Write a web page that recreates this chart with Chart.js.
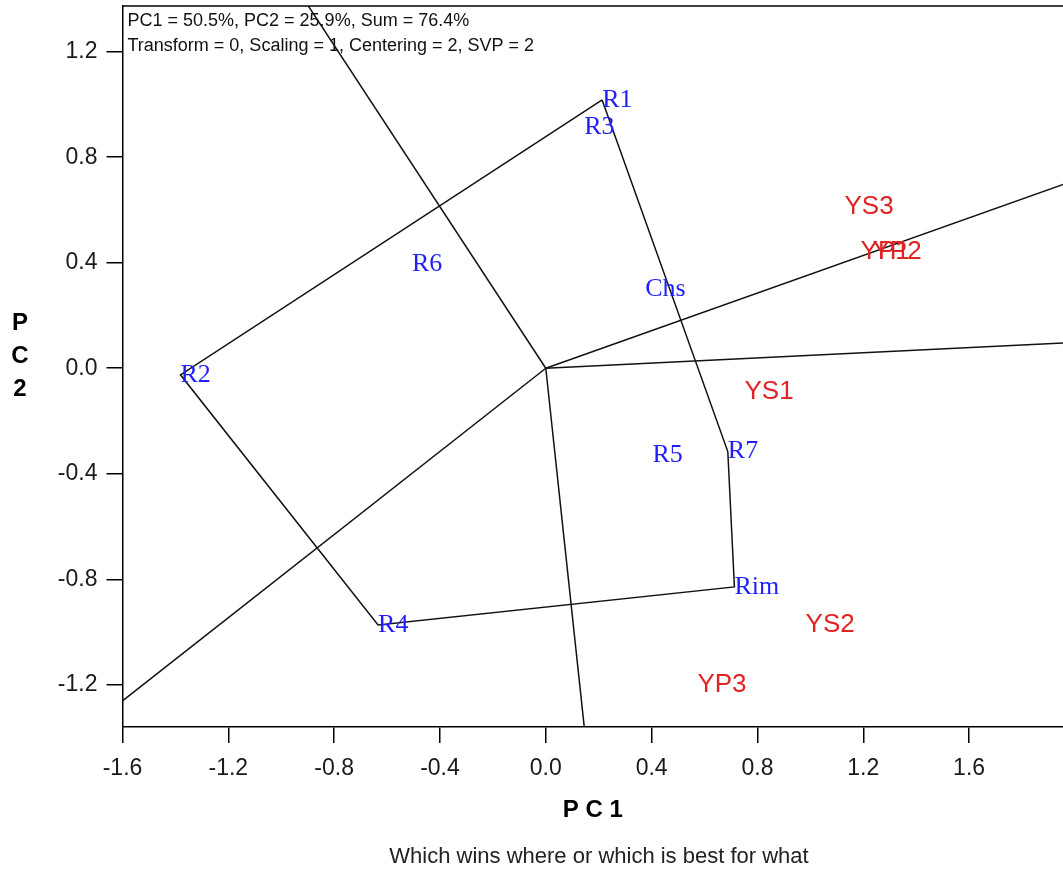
<!DOCTYPE html>
<html>
<head>
<meta charset="utf-8">
<title>Which wins where</title>
<script src="https://cdn.jsdelivr.net/npm/chart.js@4.4.0/dist/chart.umd.min.js"></script>
<style>
  html, body { margin: 0; padding: 0; background: #fff; }
  #wrap { width: 1063px; height: 872px; }
</style>
</head>
<body>
<div id="wrap"><canvas id="biplot" width="1063" height="872"></canvas></div>
<script>
// genotype scores (blue) on PC1 / PC2
const genotypes = ['R1', 'R3', 'R6', 'Chs', 'R2', 'R5', 'R7', 'Rim', 'R4'];
const genoPC1 = [0.213, 0.145, -0.506, 0.376, -1.381, 0.403, 0.688, 0.713, -0.634];
const genoPC2 = [1.017, 0.915, 0.395, 0.300, -0.025, -0.329, -0.316, -0.829, -0.973];

// environment scores (red)
const environments = ['YS3', 'YP1', 'YP2', 'YS1', 'YS2', 'YP3'];
const envPC1 = [1.129, 1.190, 1.235, 0.751, 0.982, 0.573];
const envPC2 = [0.611, 0.442, 0.440, -0.090, -0.973, -1.200];

// vertex genotypes of the polygon, in drawing order
const hull = ['R1', 'R7', 'Rim', 'R4', 'R2'];

const xTicks = [-1.6, -1.2, -0.8, -0.4, 0.0, 0.4, 0.8, 1.2, 1.6];
const yTicks = [-1.2, -0.8, -0.4, 0.0, 0.4, 0.8, 1.2];

const infoLines = [
  'PC1 = 50.5%, PC2 = 25.9%, Sum = 76.4%',
  'Transform = 0, Scaling = 1, Centering = 2, SVP = 2'
];

function genoPoint(name) {
  const i = genotypes.indexOf(name);
  return { x: genoPC1[i], y: genoPC2[i] };
}

// polygon joining the vertex genotypes
const hullPts = hull.map(genoPoint);
hullPts.push(hullPts[0]);

// rays from the origin, perpendicular to each side of the polygon
function rayFor(a, b) {
  const dx = b.x - a.x, dy = b.y - a.y;
  const t = -(a.x * dx + a.y * dy) / (dx * dx + dy * dy);
  const fx = a.x + t * dx, fy = a.y + t * dy;
  const len = Math.hypot(fx, fy);
  return [{ x: 0, y: 0 }, { x: fx / len * 10, y: fy / len * 10 }];
}

const lineStyle = {
  showLine: true,
  borderColor: '#111',
  borderWidth: 1.5,
  pointRadius: 0,
  fill: false,
  tension: 0
};

const datasets = [{ ...lineStyle, label: 'polygon', data: hullPts }];
for (let i = 0; i < hullPts.length - 1; i++) {
  datasets.push({ ...lineStyle, label: 'ray' + i, data: rayFor(hullPts[i], hullPts[i + 1]) });
}

const decorations = {
  id: 'decorations',
  afterDatasetsDraw(chart) {
    const { ctx, chartArea: a, scales: { x, y } } = chart;
    ctx.save();

    // top edge of the frame (left and bottom come from the axes)
    ctx.strokeStyle = '#000';
    ctx.lineWidth = 1.5;
    ctx.beginPath();
    ctx.moveTo(a.left, a.top);
    ctx.lineTo(a.right, a.top);
    ctx.stroke();

    ctx.textAlign = 'left';
    ctx.textBaseline = 'middle';

    ctx.font = '26px "Liberation Serif"';
    ctx.fillStyle = '#1e1eff';
    genotypes.forEach((g, i) => {
      ctx.fillText(g, x.getPixelForValue(genoPC1[i]), y.getPixelForValue(genoPC2[i]));
    });

    ctx.font = '26px "Liberation Sans"';
    ctx.fillStyle = '#e02424';
    environments.forEach((e, i) => {
      ctx.fillText(e, x.getPixelForValue(envPC1[i]), y.getPixelForValue(envPC2[i]));
    });

    // summary lines in the top-left corner
    ctx.font = '18px "Liberation Sans"';
    ctx.fillStyle = '#111';
    ctx.fillText(infoLines[0], a.left + 5, a.top + 15);
    ctx.fillText(infoLines[1], a.left + 5, a.top + 40);

    // axis titles
    ctx.textAlign = 'center';
    ctx.font = 'bold 24px "Liberation Sans"';
    ctx.fillStyle = '#000';
    ctx.fillText('P C 1', (a.left + a.right) / 2, 810);
    ['P', 'C', '2'].forEach((ch, i) => ctx.fillText(ch, 20, 323 + i * 33));

    ctx.font = '22px "Liberation Sans"';
    ctx.fillStyle = '#222';
    ctx.fillText('Which wins where or which is best for what', 599, 857);

    ctx.restore();
  }
};

const tickFont = { family: '"Liberation Sans"', size: 23 };
const gridStyle = { drawOnChartArea: false, drawTicks: true, tickLength: 16, color: '#000', lineWidth: 1.5 };

// fixed axis boxes so the plot frame sits where it should
function fixBox(size) {
  return s => {
    if (s.isHorizontal()) s.height = size; else s.width = size;
    s.paddingTop = s.paddingBottom = s.paddingLeft = s.paddingRight = 0;
  };
}

new Chart(document.getElementById('biplot'), {
  type: 'scatter',
  data: { datasets },
  options: {
    responsive: false,
    devicePixelRatio: 1,
    animation: false,
    layout: { padding: { top: 6, right: 0, bottom: 0, left: 0 } },
    plugins: {
      legend: { display: false },
      tooltip: { enabled: false }
    },
    scales: {
      x: {
        type: 'linear',
        min: -1.6,
        max: 1.955,
        afterBuildTicks: s => { s.ticks = xTicks.map(v => ({ value: v })); },
        afterFit: fixBox(145),
        ticks: { callback: v => v.toFixed(1), font: tickFont, color: '#1a1a1a', padding: 12, maxRotation: 0 },
        grid: gridStyle,
        border: { color: '#000', width: 1.5 }
      },
      y: {
        type: 'linear',
        min: -1.36,
        max: 1.373,
        afterBuildTicks: s => { s.ticks = yTicks.map(v => ({ value: v })); },
        afterFit: fixBox(122.5),
        ticks: { callback: v => v.toFixed(1), font: tickFont, color: '#1a1a1a', padding: 9 },
        grid: gridStyle,
        border: { color: '#000', width: 1.5 }
      }
    }
  },
  plugins: [decorations]
});
</script>
</body>
</html>
